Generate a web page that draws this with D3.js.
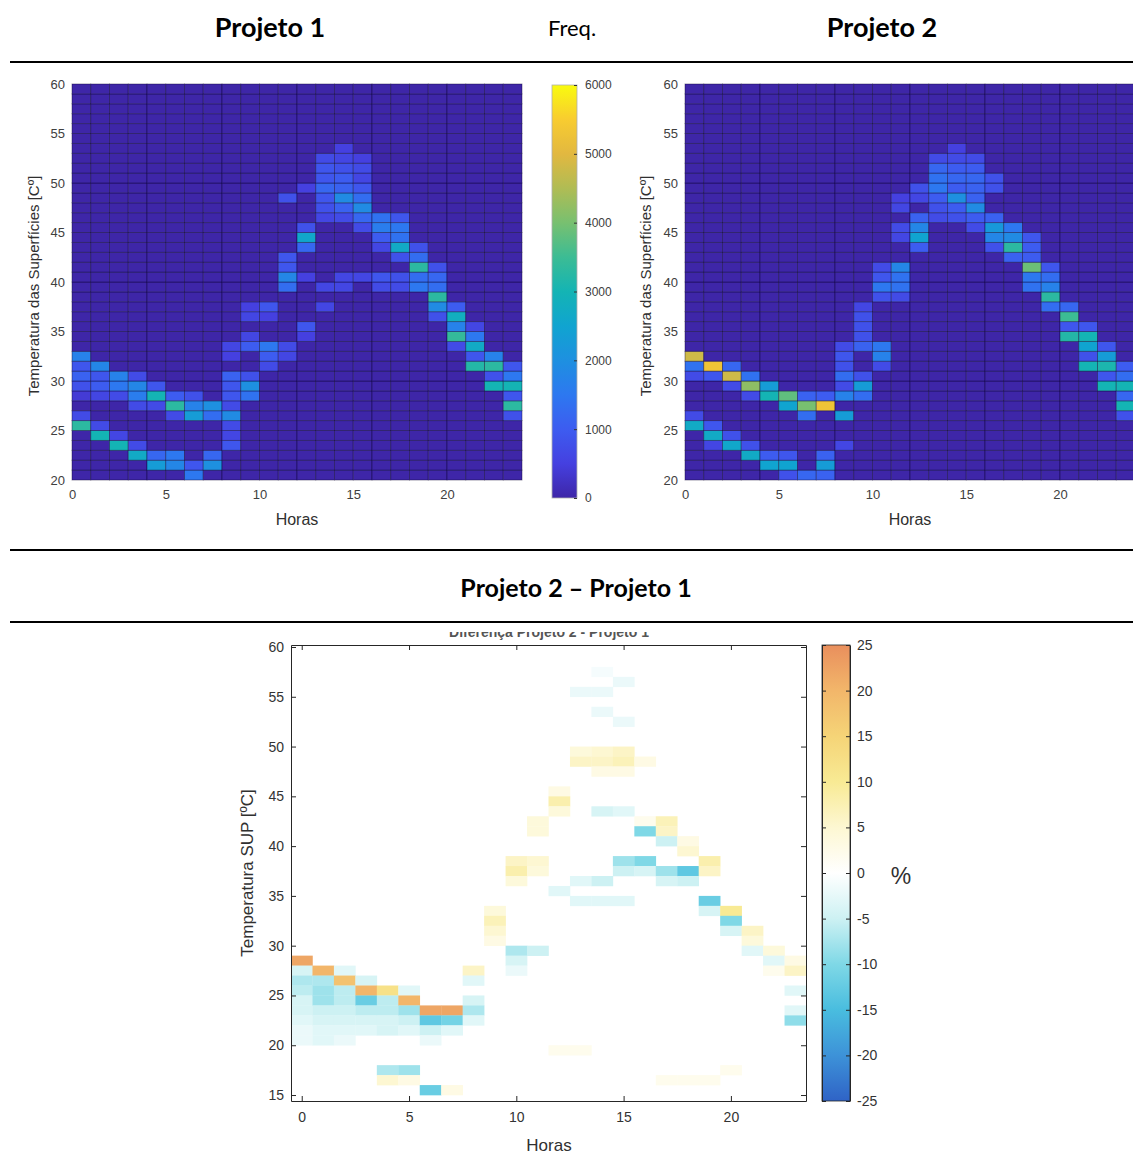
<!DOCTYPE html>
<html><head><meta charset="utf-8">
<script src="https://cdn.jsdelivr.net/npm/d3@7"></script>
<style>body{margin:0;background:#fff}svg{display:block}</style>
</head><body>
<svg id="c" width="1133" height="1154"></svg>
<script>
// ---------- data ----------
const hours = [0,1,2,3,4,5,6,7,8,9,10,11,12,13,14,15,16,17,18,19,20,21,22,23];
const tempBins = [20,21,22,23,24,25,26,27,28,29,30,31,32,33,34,35,36,37,38,39,40,41,42,43,44,45,46,47,48,49,50,51,52,53,54,55,56,57,58,59];
const hourTicks = [0,5,10,15,20];
const tempTicksTop = [20,25,30,35,40,45,50,55,60];
const tempTicksBottom = [15,20,25,30,35,40,45,50,55,60];
const freqTicks = [0,1000,2000,3000,4000,5000,6000];
const pctTicks = [-25,-20,-15,-10,-5,0,5,10,15,20,25];

// [hour, temperature bin, frequency]
const projeto1 = [
 [0,32,1700],[0,31,900],[0,30,1100],[0,29,800],[0,28,400],[0,26,700],[0,25,3300],
 [1,31,1800],[1,30,900],[1,29,1000],[1,28,600],[1,25,700],[1,24,3000],
 [2,30,1700],[2,29,1500],[2,28,700],[2,24,600],[2,23,3000],
 [3,30,700],[3,29,1800],[3,28,1600],[3,27,700],[3,23,700],[3,22,2700],
 [4,29,900],[4,28,3000],[4,27,700],[4,22,1200],[4,21,2300],
 [5,28,1000],[5,27,3300],[5,26,700],[5,22,1500],[5,21,1800],
 [6,28,800],[6,27,1700],[6,26,2300],[6,21,900],[6,20,1500],
 [7,27,2000],[7,26,1300],[7,22,1200],[7,21,2000],
 [8,33,600],[8,32,500],[8,30,1100],[8,29,900],[8,28,900],[8,27,700],[8,26,1900],[8,25,700],[8,24,600],[8,23,900],
 [9,37,500],[9,36,600],[9,34,600],[9,33,1000],[9,30,800],[9,29,2000],[9,28,1400],
 [10,37,900],[10,36,500],[10,33,1500],[10,32,1000],[10,31,700],
 [11,48,800],[11,42,900],[11,41,900],[11,40,1800],[11,39,1300],[11,33,700],[11,32,600],
 [12,49,500],[12,45,800],[12,44,2600],[12,43,1200],[12,40,500],[12,35,900],[12,34,500],
 [13,52,700],[13,51,900],[13,50,900],[13,49,1200],[13,48,900],[13,47,800],[13,46,600],[13,39,600],[13,37,600],
 [14,53,500],[14,52,600],[14,51,800],[14,50,1000],[14,49,1100],[14,48,1900],[14,47,1100],[14,46,700],[14,40,600],[14,39,600],
 [15,52,500],[15,51,700],[15,50,600],[15,49,900],[15,48,1300],[15,47,1900],[15,46,1200],[15,45,700],[15,40,600],
 [16,46,1400],[16,45,1600],[16,44,1000],[16,43,600],[16,40,900],[16,39,700],
 [17,46,900],[17,45,1500],[17,44,1400],[17,43,2700],[17,42,800],[17,40,800],[17,39,700],
 [18,43,800],[18,42,1300],[18,41,3300],[18,40,1300],[18,39,1500],
 [19,41,800],[19,40,1200],[19,39,1300],[19,38,3300],[19,37,1900],[19,36,800],
 [20,37,1000],[20,36,2800],[20,35,1700],[20,34,3400],[20,33,700],
 [21,35,600],[21,34,1500],[21,33,2700],[21,32,900],[21,31,3200],
 [22,32,1700],[22,31,3300],[22,30,800],[22,29,3000],
 [23,31,900],[23,30,1500],[23,29,3000],[23,28,900],[23,27,3300],[23,26,800]
];
const projeto2 = [
 [0,32,4800],[0,31,1400],[0,30,700],[0,26,700],[0,25,2700],
 [1,31,5300],[1,30,900],[1,25,900],[1,24,2700],[1,23,600],
 [2,31,1200],[2,30,4800],[2,29,700],[2,24,800],[2,23,2600],
 [3,30,1400],[3,29,4200],[3,28,700],[3,23,800],[3,22,2700],
 [4,29,2300],[4,28,3000],[4,22,1000],[4,21,2500],
 [5,28,3800],[5,27,2500],[5,22,900],[5,21,2500],[5,20,800],
 [6,28,1100],[6,27,4000],[6,26,1300],[6,20,1200],
 [7,28,1000],[7,27,5300],[7,22,1100],[7,21,2300],[7,20,1100],
 [8,33,700],[8,32,900],[8,31,800],[8,30,1300],[8,29,700],[8,28,1700],[8,26,2300],[8,23,600],
 [9,37,600],[9,36,800],[9,35,800],[9,34,800],[9,33,1100],[9,30,800],[9,29,2300],[9,28,1300],
 [10,41,700],[10,40,900],[10,39,1500],[10,38,800],[10,33,1500],[10,32,1700],[10,31,700],
 [11,48,500],[11,47,600],[11,45,700],[11,44,600],[11,41,1800],[11,40,1400],[11,39,1400],[11,38,700],
 [12,49,800],[12,48,600],[12,46,1100],[12,45,1800],[12,44,2500],[12,43,1000],
 [13,52,700],[13,51,1200],[13,50,1400],[13,49,1500],[13,48,1000],[13,47,800],[13,46,700],
 [14,53,500],[14,52,700],[14,51,1000],[14,50,1200],[14,49,1000],[14,48,2000],[14,47,1000],[14,46,800],
 [15,52,700],[15,51,1000],[15,50,1200],[15,49,1100],[15,48,1100],[15,47,1900],[15,46,1000],[15,45,700],
 [16,50,800],[16,49,800],[16,46,1100],[16,45,2200],[16,44,1800],[16,43,800],
 [17,45,1500],[17,44,1900],[17,43,3300],[17,42,1100],
 [18,44,900],[18,43,1000],[18,42,1000],[18,41,3900],[18,40,1500],[18,39,1400],
 [19,41,900],[19,40,1300],[19,39,1700],[19,38,3300],[19,37,1300],
 [20,37,1200],[20,36,3500],[20,35,900],[20,34,3200],
 [21,35,900],[21,34,3000],[21,33,2500],[21,32,800],[21,31,3000],
 [22,33,900],[22,32,2300],[22,31,3100],[22,30,900],[22,29,3000],
 [23,31,1000],[23,30,1300],[23,29,3000],[23,28,1200],[23,27,3000],[23,26,800]
];
// [hour, temperature bin, difference %]
const diferenca = [
 [0,28,22],[0,27,-4],[0,26,-7],[0,25,-6],[0,24,-4],[0,23,-4],[0,22,-3],[0,21,-2],[0,20,-2],
 [1,27,20],[1,26,-7],[1,25,-8],[1,24,-8],[1,23,-5],[1,22,-4],[1,21,-3],[1,20,-3],
 [2,27,-3],[2,26,18],[2,25,-6],[2,24,-6],[2,23,-5],[2,22,-4],[2,21,-3],[2,20,-2],
 [3,26,-4],[3,25,20],[3,24,-12],[3,23,-6],[3,22,-4],[3,21,-3],
 [4,25,12],[4,24,-6],[4,23,-6],[4,22,-4],[4,21,-4],[4,17,-7],[4,16,5],
 [5,25,-3],[5,24,20],[5,23,-8],[5,22,-5],[5,21,-3],[5,17,-8],[5,16,3],
 [6,23,22],[6,22,-13],[6,21,-5],[6,20,-2],[6,15,-12],
 [7,23,22],[7,22,-11],[7,21,-3],[7,15,3],
 [8,27,6],[8,26,-3],[8,24,-4],[8,23,-7],[8,22,-3],
 [9,33,4],[9,32,7],[9,31,5],[9,30,3],
 [10,38,6],[10,37,8],[10,36,4],[10,29,-7],[10,28,-4],[10,27,-2],
 [11,42,4],[11,41,4],[11,38,5],[11,37,4],[11,29,-5],
 [12,45,3],[12,44,8],[12,43,4],[12,35,-3],[12,19,2],
 [13,55,-2],[13,49,4],[13,48,6],[13,36,-3],[13,34,-3],[13,19,2],
 [14,57,-1],[14,55,-2],[14,53,-2],[14,49,5],[14,48,6],[14,47,3],[14,43,-4],[14,36,-5],[14,34,-3],
 [15,56,-2],[15,52,-2],[15,49,6],[15,48,7],[15,47,3],[15,43,-3],[15,38,-8],[15,37,-5],[15,34,-3],
 [16,48,3],[16,42,2],[16,41,-10],[16,38,-10],[16,37,-4],
 [17,42,7],[17,41,6],[17,40,-5],[17,37,-8],[17,36,-4],[17,16,2],
 [18,40,3],[18,39,5],[18,37,-13],[18,36,-5],[18,16,2],
 [19,38,8],[19,37,6],[19,34,-12],[19,33,-4],[19,16,2],
 [20,33,10],[20,32,-10],[20,31,-4],[20,17,2],
 [21,31,6],[21,30,4],[21,29,-3],
 [22,29,4],[22,28,-3],[22,27,2],
 [23,28,3],[23,27,6],[23,25,-3],[23,23,-3],[23,22,-9]
];

// ---------- colour maps ----------
const parulaColors = ['#3e26a8','#4540e0','#3d5cf0','#2d78f0','#1e90e0','#10a4d0','#14b4b4','#3cbc94','#78c070','#b0bc54','#e2b840','#f8cc30','#f9fb0e'];
const parula = d3.scaleLinear()
  .domain(parulaColors.map((c,i)=>i/(parulaColors.length-1)))
  .range(parulaColors).interpolate(d3.interpolateRgb).clamp(true);
const divColors = ['#2f63c6','#3d92d8','#49bddf','#7fd8e6','#cdf1f3','#ffffff','#fdf7d2','#f8ea94','#f5d477','#f2b66a','#e98f5d'];
const divScale = d3.scaleLinear().domain(pctTicks).range(divColors).interpolate(d3.interpolateRgb).clamp(true);

const plain = d => String(d);
const svg = d3.select('#c');
const FONT = '"Liberation Sans", Arial, sans-serif';
const TFONT = 'Lato, "Open Sans", sans-serif';

// ---------- headings and rules ----------
svg.append('text').attr('x',270).attr('y',37).attr('text-anchor','middle')
  .attr('font-family',TFONT).attr('font-weight',700).attr('font-size',27).text('Projeto 1');
svg.append('text').attr('x',572).attr('y',36).attr('text-anchor','middle')
  .attr('font-family',TFONT).attr('font-size',22).text('Freq.');
svg.append('text').attr('x',882).attr('y',37).attr('text-anchor','middle')
  .attr('font-family',TFONT).attr('font-weight',700).attr('font-size',27).text('Projeto 2');
svg.append('text').attr('x',576).attr('y',597).attr('text-anchor','middle')
  .attr('font-family',TFONT).attr('font-weight',700).attr('font-size',25).text('Projeto 2 – Projeto 1');
[62,550,622].forEach(yy=>svg.append('line').attr('x1',10).attr('x2',1133).attr('y1',yy).attr('y2',yy)
  .attr('stroke','#000').attr('stroke-width',2));

// ---------- frequency heatmaps ----------
function freqPanel(data, x0, labelX){
  const x = d3.scaleLinear().domain([0,24]).range([x0, x0+450]);
  const y = d3.scaleLinear().domain([20,60]).range([480,84]);
  const lookup = new Map(data.map(d=>[d[0]+'_'+d[1], d[2]]));
  const cells = [];
  hours.forEach(h=>tempBins.forEach(t=>cells.push({h,t,v:lookup.get(h+'_'+t)||0})));
  const g = svg.append('g');
  g.selectAll('rect').data(cells).join('rect')
    .attr('x',d=>x(d.h)).attr('y',d=>y(d.t+1))
    .attr('width',d=>x(d.h+1)-x(d.h)).attr('height',d=>y(d.t)-y(d.t+1))
    .attr('fill',d=>parula(d.v/6000))
    .attr('stroke','#0a0530').attr('stroke-opacity',0.45).attr('stroke-width',0.9);
  const ax = svg.append('g').attr('transform',`translate(${x0},0)`)
    .call(d3.axisLeft(y).tickValues(tempTicksTop).tickSize(0).tickPadding(7).tickFormat(plain));
  const bx = svg.append('g').attr('transform','translate(0,480)')
    .call(d3.axisBottom(x).tickValues(hourTicks).tickSize(0).tickPadding(10).tickFormat(plain));
  [ax,bx].forEach(a=>{a.select('.domain').remove();
    a.selectAll('text').attr('font-family',FONT).attr('font-size',13).attr('fill','#404040');});
  svg.append('text').attr('x',x(12)).attr('y',525).attr('text-anchor','middle')
    .attr('font-family',FONT).attr('font-size',16).attr('fill','#303030').text('Horas');
  svg.append('text').attr('transform',`translate(${labelX},286) rotate(-90)`).attr('text-anchor','middle')
    .attr('font-family',FONT).attr('font-size',15).attr('fill','#303030')
    .text('Temperatura das Superfícies [Cº]');
}
freqPanel(projeto1, 72, 39);
freqPanel(projeto2, 685, 651);

// ---------- frequency colour bar ----------
const defs = svg.append('defs');
const g1 = defs.append('linearGradient').attr('id','gParula').attr('x1',0).attr('x2',0).attr('y1',1).attr('y2',0);
parulaColors.forEach((c,i)=>g1.append('stop').attr('offset',(i/(parulaColors.length-1)*100)+'%').attr('stop-color',c));
const cbY = d3.scaleLinear().domain([0,6000]).range([498,85]);
svg.append('rect').attr('x',552).attr('y',85).attr('width',25).attr('height',413)
  .attr('fill','url(#gParula)').attr('stroke','#b0b0b0').attr('stroke-width',0.8);
const cbAx = svg.append('g').attr('transform','translate(577,0)')
  .call(d3.axisRight(cbY).tickValues(freqTicks).tickSizeInner(-3).tickSizeOuter(0).tickPadding(8).tickFormat(plain));
cbAx.select('.domain').remove();
cbAx.selectAll('line').attr('stroke','#333');
cbAx.selectAll('text').attr('font-family',FONT).attr('font-size',12).attr('fill','#404040');

// ---------- difference map ----------
const xB = d3.scaleLinear().domain([-0.5,23.5]).range([291,806]);
const yB = d3.scaleLinear().domain([14.4,60.2]).range([1101,645]);
defs.append('clipPath').attr('id','clipB').append('rect')
  .attr('x',291).attr('y',645).attr('width',515).attr('height',456);
// remnant of a title hidden behind the rule
defs.append('clipPath').attr('id','clipT').append('rect').attr('x',0).attr('y',632).attr('width',1133).attr('height',8);
svg.append('text').attr('clip-path','url(#clipT)').attr('x',549).attr('y',637).attr('text-anchor','middle')
  .attr('font-family',FONT).attr('font-weight',700).attr('font-size',14).attr('fill','#555')
  .text('Diferença Projeto 2 - Projeto 1');

svg.append('g').attr('clip-path','url(#clipB)').selectAll('rect').data(diferenca).join('rect')
  .attr('x',d=>xB(d[0]-0.5)).attr('y',d=>yB(d[1]+1))
  .attr('width',d=>xB(d[0]+0.5)-xB(d[0]-0.5)+0.3).attr('height',d=>yB(d[1])-yB(d[1]+1)+0.3)
  .attr('fill',d=>divScale(d[2]));

function styleAx(a,size){
  a.select('.domain').attr('stroke','#262626');
  a.selectAll('line').attr('stroke','#262626');
  a.selectAll('text').attr('font-family',FONT).attr('font-size',size).attr('fill','#333');
}
styleAx(svg.append('g').attr('transform','translate(291,0)')
  .call(d3.axisLeft(yB).tickValues(tempTicksBottom).tickSizeInner(-5).tickSizeOuter(0).tickPadding(7).tickFormat(plain)),14);
styleAx(svg.append('g').attr('transform','translate(806,0)')
  .call(d3.axisRight(yB).tickValues(tempTicksBottom).tickSizeInner(-5).tickSizeOuter(0).tickFormat('')),14);
styleAx(svg.append('g').attr('transform','translate(0,645)')
  .call(d3.axisTop(xB).tickValues(hourTicks).tickSizeInner(-5).tickSizeOuter(0).tickFormat('')),14);
styleAx(svg.append('g').attr('transform','translate(0,1101)')
  .call(d3.axisBottom(xB).tickValues(hourTicks).tickSizeInner(-5).tickSizeOuter(0).tickPadding(11).tickFormat(plain)),14);
svg.append('text').attr('x',549).attr('y',1151).attr('text-anchor','middle')
  .attr('font-family',FONT).attr('font-size',17).attr('fill','#303030').text('Horas');
svg.append('text').attr('transform','translate(253,873) rotate(-90)').attr('text-anchor','middle')
  .attr('font-family',FONT).attr('font-size',17).attr('fill','#303030').text('Temperatura SUP [ºC]');

// ---------- difference colour bar ----------
const g2 = defs.append('linearGradient').attr('id','gDiv').attr('x1',0).attr('x2',0).attr('y1',1).attr('y2',0);
divColors.forEach((c,i)=>g2.append('stop').attr('offset',(i/(divColors.length-1)*100)+'%').attr('stop-color',c));
const cb2 = d3.scaleLinear().domain([-25,25]).range([1101,645]);
svg.append('rect').attr('x',822).attr('y',645).attr('width',28).attr('height',456)
  .attr('fill','url(#gDiv)').attr('stroke','#262626').attr('stroke-width',0.8);
styleAx(svg.append('g').attr('transform','translate(850,0)')
  .call(d3.axisRight(cb2).tickValues(pctTicks).tickSizeInner(-4).tickSizeOuter(0).tickPadding(7).tickFormat(plain)),14);
styleAx(svg.append('g').attr('transform','translate(822,0)')
  .call(d3.axisLeft(cb2).tickValues(pctTicks).tickSizeInner(-4).tickSizeOuter(0).tickFormat('')),14);
svg.append('text').attr('x',901).attr('y',884).attr('text-anchor','middle')
  .attr('font-family',FONT).attr('font-size',23).attr('fill','#303030').text('%');
</script>
</body></html>
